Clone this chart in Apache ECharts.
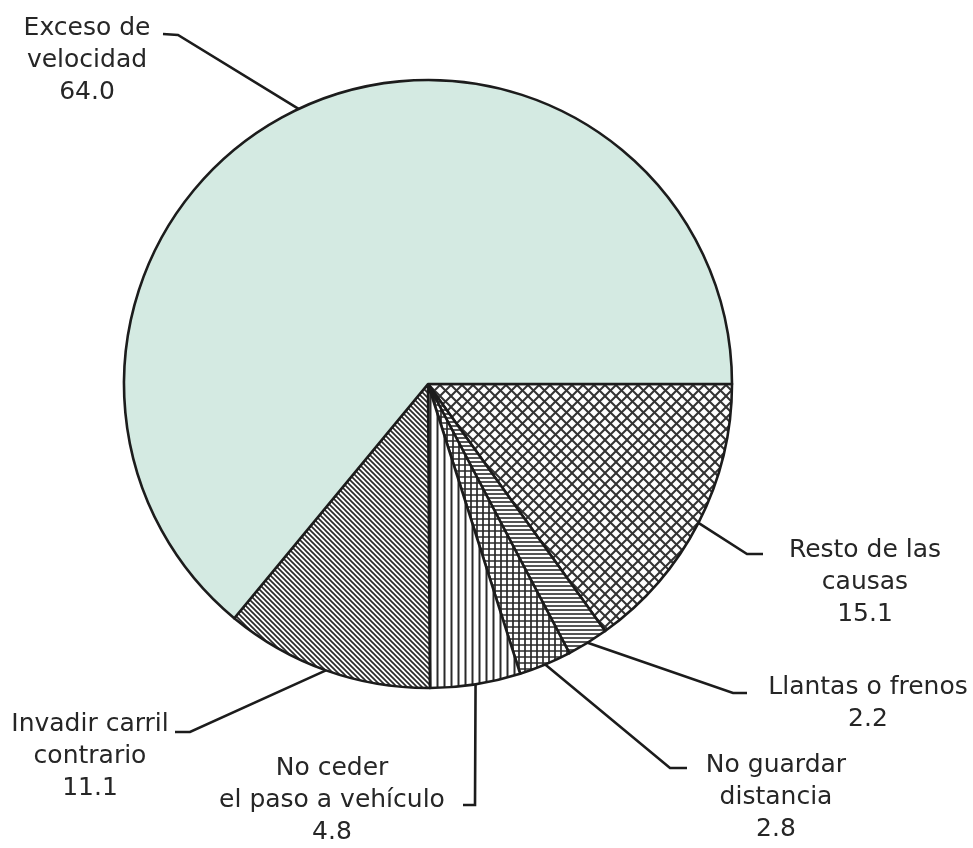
<!DOCTYPE html>
<html><head><meta charset="utf-8">
<script src="https://cdn.jsdelivr.net/npm/echarts@6/dist/echarts.min.js"></script>
<style>html,body{margin:0;padding:0;background:#fff}#main{width:973px;height:848px}</style>
</head><body><div id="main"></div>
<script>
// ---- data (clockwise from 3 o'clock) ----
const categories = ['Resto de las\ncausas', 'Llantas o frenos', 'No guardar\ndistancia', 'No ceder\nel paso a vehículo', 'Invadir carril\ncontrario', 'Exceso de\nvelocidad'];
const values = [15.1, 2.2, 2.8, 4.8, 11.1, 64.0];

// ---- label placement (style only) ----
const labelPlacement = [
  {x: 865, y: 582, elbow: [747, 554], end: [763, 554]},
  {x: 868, y: 703, elbow: [733, 693], end: [747, 693]},
  {x: 776, y: 797, elbow: [670, 768], end: [687, 768]},
  {x: 332, y: 800, elbow: [475, 805], end: [463, 805]},
  {x: 90,  y: 756, elbow: [190, 732], end: [175, 732]},
  {x: 87,  y: 60,  elbow: [178, 35],  end: [163, 34]}
];

const INK = '#1c1c1c';
function makePattern(size, lw, color, draw) {
  const c = document.createElement('canvas');
  c.width = size; c.height = size;
  const g = c.getContext('2d');
  g.fillStyle = '#ffffff'; g.fillRect(0, 0, size, size);
  g.strokeStyle = color; g.lineWidth = lw;
  draw(g, size);
  return {image: c, repeat: 'repeat'};
}
function diagDown(g, s) { for (const k of [-s, 0, s]) { g.beginPath(); g.moveTo(k - 1, -1); g.lineTo(k + s + 1, s + 1); g.stroke(); } }
function diagUp(g, s) { for (const k of [-s, 0, s]) { g.beginPath(); g.moveTo(k - 1, s + 1); g.lineTo(k + s + 1, -1); g.stroke(); } }

const fills = [
  makePattern(11, 2, '#333333', (g, s) => { diagDown(g, s); diagUp(g, s); }),
  makePattern(4, 1.6, '#2a2a2a', (g, s) => { g.beginPath(); g.moveTo(0, s / 2); g.lineTo(s, s / 2); g.stroke(); }),
  makePattern(6, 1.7, '#2a2a2a', (g, s) => { g.beginPath(); g.moveTo(0, s / 2); g.lineTo(s, s / 2); g.moveTo(s / 2, 0); g.lineTo(s / 2, s); g.stroke(); }),
  makePattern(7, 2, '#2a2a2a', (g, s) => { g.beginPath(); g.moveTo(s / 2, 0); g.lineTo(s / 2, s); g.stroke(); }),
  makePattern(5, 1.7, '#2a2a2a', (g, s) => { diagDown(g, s); }),
  '#d4eae2'
];

const chart = echarts.init(document.getElementById('main'), null, {renderer: 'canvas'});
chart.setOption({
  backgroundColor: '#ffffff',
  animation: false,
  series: [{
    type: 'pie',
    center: [428, 384],
    radius: 304,
    startAngle: 0,
    clockwise: true,
    avoidLabelOverlap: false,
    emphasis: {disabled: true},
    itemStyle: {borderColor: INK, borderWidth: 2.6},
    label: {
      show: true,
      position: 'outside',
      fontFamily: 'DejaVu Sans',
      fontSize: 25,
      lineHeight: 32,
      color: '#262626',
      align: 'center',
      formatter: p => p.name + '\n' + p.value.toFixed(1)
    },
    labelLine: {show: true, length: 20, length2: 20, lineStyle: {color: INK, width: 2.6}},
    labelLayout: function (p) {
      const pl = labelPlacement[p.dataIndex];
      const out = {x: pl.x, y: pl.y, align: 'center', verticalAlign: 'middle'};
      if (p.labelLinePoints && p.labelLinePoints.length) {
        out.labelLinePoints = [p.labelLinePoints[0], pl.elbow, pl.end];
      }
      return out;
    },
    data: categories.map((c, i) => ({name: c, value: values[i], itemStyle: {color: fills[i]}, labelLine: {lineStyle: {width: 2.6, color: INK}}}))
  }]
});
</script>
</body></html>
